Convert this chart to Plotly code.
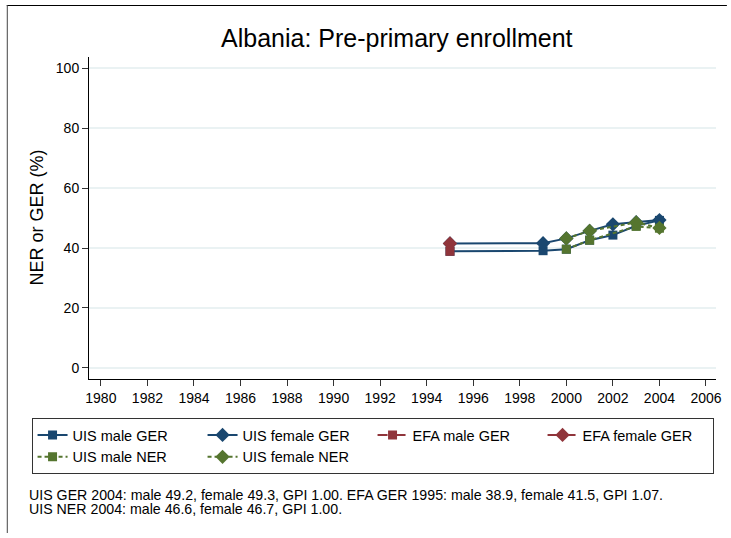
import plotly.graph_objects as go

# Albania pre-primary enrollment
uis_ger_years = [1995, 1999, 2000, 2001, 2002, 2003, 2004]
uis_male_ger = [38.9, 39.1, 39.6, 42.6, 44.3, 47.4, 49.2]
uis_female_ger = [41.5, 41.6, 43.2, 45.7, 47.9, 48.6, 49.3]

efa_years = [1995]
efa_male_ger = [38.9]
efa_female_ger = [41.5]

uis_ner_years = [2000, 2001, 2003, 2004]
uis_male_ner = [39.6, 42.6, 47.2, 46.6]
uis_female_ner = [43.2, 45.7, 48.5, 46.7]

x_ticks = list(range(1980, 2007, 2))
y_ticks = [0, 20, 40, 60, 80, 100]

title = "Albania: Pre-primary enrollment"
y_title = "NER or GER (%)"
notes = [
    "UIS GER 2004: male 49.2, female 49.3, GPI 1.00. EFA GER 1995: male 38.9, female 41.5, GPI 1.07.",
    "UIS NER 2004: male 46.6, female 46.7, GPI 1.00.",
]

NAVY = "#1a476f"
MAROON = "#90353b"
GREEN = "#55752f"
FONT = "Liberation Sans, Arial, sans-serif"

W, H = 731, 538
L, R, T, B = 89, 722, 57, 379


def px_x(x):
    return (x - L) / (R - L)


def px_y(y):
    return (B - y) / (B - T)


def series(x, y, name, color, symbol, dash, size):
    return go.Scatter(
        x=x, y=y, name=name, mode="lines+markers",
        line=dict(color=color, width=2, dash=dash),
        marker=dict(color=color, symbol=symbol, size=size),
    )


fig = go.Figure()
fig.add_trace(series(uis_ger_years, uis_male_ger, "UIS male GER", NAVY, "square", "solid", 9))
fig.add_trace(series(uis_ger_years, uis_female_ger, "UIS female GER", NAVY, "diamond", "solid", 11))
fig.add_trace(series(efa_years, efa_male_ger, "EFA male GER", MAROON, "square", "10px,3px,2px,3px", 9))
fig.add_trace(series(efa_years, efa_female_ger, "EFA female GER", MAROON, "diamond", "10px,3px,2px,3px", 11))
fig.add_trace(series(uis_ner_years, uis_male_ner, "UIS male NER", GREEN, "square", "4px,3px", 9))
fig.add_trace(series(uis_ner_years, uis_female_ner, "UIS female NER", GREEN, "diamond", "4px,3px", 11))

annotations = [
    dict(text=title, x=px_x(400), y=px_y(38), xref="paper", yref="paper",
         xanchor="center", yanchor="middle",
         showarrow=False, font=dict(size=25, color="black")),
    dict(text=y_title, x=px_x(36), y=0.5, xref="paper", yref="paper", textangle=-90,
         xanchor="center", yanchor="middle",
         showarrow=False, font=dict(size=18, color="black")),
]
for i, note in enumerate(notes):
    annotations.append(dict(
        text=note, x=px_x(26), y=px_y(495 + 13.5 * i), xref="paper", yref="paper",
        xanchor="left", yanchor="middle", showarrow=False, font=dict(size=14.2, color="black"),
    ))

# the two visible edges of the outer frame
shapes = [
    dict(type="line", xref="paper", yref="paper", x0=px_x(6), x1=px_x(W + 2),
         y0=px_y(5.5), y1=px_y(5.5), line=dict(color="black", width=1)),
    dict(type="line", xref="paper", yref="paper", x0=px_x(6.5), x1=px_x(6.5),
         y0=px_y(5), y1=px_y(533), line=dict(color="#444", width=1)),
]

fig.update_layout(
    width=W, height=H,
    margin=dict(l=L, r=W - R, t=T, b=H - B),
    paper_bgcolor="white", plot_bgcolor="white",
    font=dict(family=FONT, size=14, color="black"),
    showlegend=True,
    legend=dict(
        orientation="h", x=px_x(31), y=px_y(418), xanchor="left", yanchor="top",
        bordercolor="#333", borderwidth=1, bgcolor="white",
        font=dict(size=14.5), entrywidth=125, traceorder="normal",
    ),
    annotations=annotations,
    shapes=shapes,
)
fig.update_xaxes(
    range=[1979.49, 2006.43], tickvals=x_ticks, showgrid=False, zeroline=False,
    showline=True, linecolor="black", linewidth=1,
    ticks="outside", ticklen=6, tickcolor="#333", tickfont=dict(size=14),
)
fig.update_yaxes(
    range=[-3.67, 103.67], tickvals=y_ticks, showgrid=True, gridcolor="#eaf2f3", gridwidth=2,
    zeroline=False, showline=True, linecolor="black", linewidth=1,
    ticks="outside", ticklen=6, tickcolor="#333", tickfont=dict(size=14),
)

fig.write_html(
    "out.html",
    config={"displayModeBar": False},
    post_script="document.body.style.margin = '0';",
)
